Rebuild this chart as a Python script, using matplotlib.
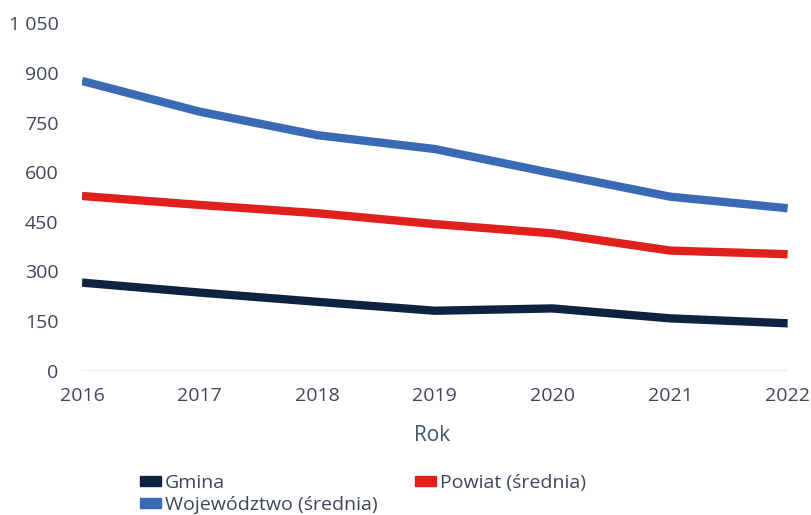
import matplotlib.pyplot as plt
from matplotlib.patches import Patch
from matplotlib.ticker import FuncFormatter

years = [2016, 2017, 2018, 2019, 2020, 2021, 2022]
gmina = [266, 236, 208, 181, 188, 158, 143]
powiat = [528, 501, 476, 443, 415, 363, 352]
wojewodztwo = [876, 783, 712, 670, 597, 526, 491]

c_gmina = '#0e2242'
c_powiat = '#e0201c'
c_woj = '#3a6ab4'
text_c = '#3d4759'

plt.rcParams['font.family'] = ['Open Sans', 'DejaVu Sans']

fig = plt.figure(figsize=(8.12, 5.15), dpi=100)
ax = fig.add_axes([0.101, 0.2804, 0.869, 0.6742])

ax.axhline(0, color='#e6e8ec', lw=1.2, zorder=1)
for vals, col in [(gmina, c_gmina), (powiat, c_powiat), (wojewodztwo, c_woj)]:
    ax.plot(years, vals, color=col, lw=6, solid_capstyle='butt', solid_joinstyle='round', zorder=3)

ax.set_xlim(2016, 2022)
ax.set_ylim(0, 1050)
ax.set_xticks(years)
ax.set_yticks(range(0, 1051, 150))
ax.yaxis.set_major_formatter(FuncFormatter(lambda v, p: f'{int(v):,}'.replace(',', ' ')))
ax.tick_params(length=0, labelsize=14, colors=text_c)
ax.tick_params(axis='y', pad=17)
ax.tick_params(axis='x', pad=12)
for s in ax.spines.values():
    s.set_visible(False)

fig.text(0.532, 0.155, 'Rok', ha='center', va='center', fontsize=15, color='#44546c')

handles = [Patch(color=c_gmina), Patch(color=c_woj), Patch(color=c_powiat)]
labels = ['Gmina', 'Województwo (średnia)', 'Powiat (średnia)']
fig.legend(handles, labels, ncol=2, loc='upper left', bbox_to_anchor=(0.172, 0.080),
           frameon=False, fontsize=14, labelcolor=text_c, handlelength=1.1, handleheight=0.45,
           handletextpad=0.2, columnspacing=1.9, labelspacing=0.2, borderaxespad=0, borderpad=0)

fig.savefig('out.png', dpi=100)
